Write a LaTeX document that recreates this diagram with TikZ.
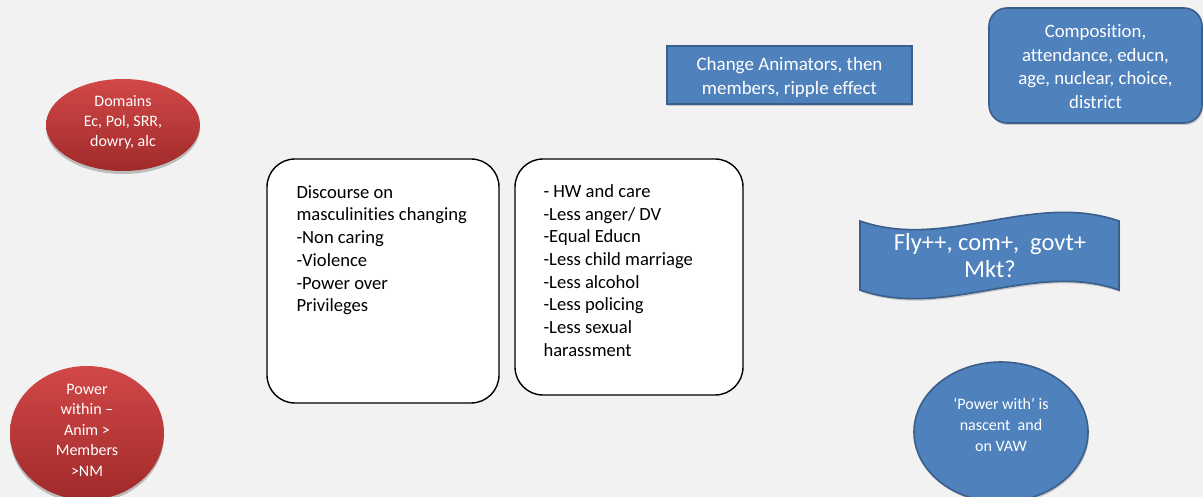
\documentclass[tikz,border=0pt]{standalone}
\usepackage{fontspec}
\setmainfont{Carlito}[Ligatures={NoCommon}]
\usetikzlibrary{shapes.geometric,shadows,calc}
\definecolor{pagebg}{HTML}{F2F2F2}
\definecolor{bluefill}{HTML}{4F81BD}
\definecolor{blueline}{HTML}{3A5F8B}
\definecolor{redtop}{HTML}{D24848}
\definecolor{redbot}{HTML}{A02A2A}

\begin{document}
\begin{tikzpicture}[x=1pt,y=-1pt,
  redoval/.style={ellipse, top color=redtop, bottom color=redbot, draw=none,
    inner sep=0pt,
    drop shadow={shadow xshift=0pt, shadow yshift=-3pt, opacity=0.22, fill=black}},
  blueshape/.style={fill=bluefill, draw=blueline, line width=1.6pt, inner sep=0pt,
    drop shadow={shadow xshift=1pt, shadow yshift=-2pt, opacity=0.18, fill=black}},
  whitebox/.style={rectangle, rounded corners=28pt, fill=white, draw=black,
    line width=1.4pt, inner sep=0pt},
  lighttext/.style={text=white, align=center, inner sep=0pt},
  listtext/.style={text=black, align=left, inner sep=0pt, anchor=north west,
    font=\fontsize{18.6}{22.7}\selectfont}
]
% page
\fill[pagebg] (0,0) rectangle (1203,497);
\useasboundingbox (0,0) rectangle (1203,497);

% red ovals on the left
\node[redoval, minimum width=154pt, minimum height=92pt] (domains) at (123,125) {};
\node[lighttext, font=\fontsize{16}{20}\selectfont] (domainsText)
  at ($(domains.center)+(0,-3)$) {Domains\\Ec, Pol, SRR,\\dowry, alc};

\node[redoval, minimum width=154pt, minimum height=134pt] (within) at (87,433) {};
\node[lighttext, font=\fontsize{16}{20.5}\selectfont] (withinText)
  at ($(within.center)+(0,-3)$) {Power\\within --\\Anim >\\Members\\>NM};

% two lists in white rounded boxes
\node[whitebox, minimum width=232pt, minimum height=244pt] (discourse) at (383,281) {};
\node[listtext] (discourseText) at ($(discourse.north west)+(30,27)$)
  {Discourse on\\masculinities changing\\-Non caring\\-Violence\\-Power over\\Privileges};

\node[whitebox, minimum width=228pt, minimum height=236pt] (changes) at (629,277) {};
\node[listtext] (changesText) at ($(changes.north west)+(29,26)$)
  {- HW and care\\-Less anger/ DV\\-Equal Educn\\-Less child marriage\\-Less alcohol\\-Less policing\\-Less sexual\\harassment};

% blue shapes on the right
\node[blueshape, rectangle, minimum width=245pt, minimum height=58pt] (ripple) at (789.5,75) {};
\node[lighttext, font=\fontsize{19}{24}\selectfont] (rippleText)
  at ($(ripple.center)+(0,2)$) {Change Animators, then\\members, ripple effect};

\node[blueshape, rectangle, rounded corners=18pt, minimum width=213pt, minimum height=115pt] (compo) at (1095.5,65.5) {};
\node[lighttext, font=\fontsize{18.8}{23.7}\selectfont] (compoText)
  at ($(compo.center)+(0,1)$) {Composition,\\attendance, educn,\\age, nuclear, choice,\\district};

% wave banner
\fill[black, opacity=0.18, xshift=1pt, yshift=-2pt]
  (860,221) .. controls (946,251) and (1032,191) .. (1119,221)
  -- (1119,290) .. controls (1032,260) and (946,320) .. (860,290) -- cycle;
\draw[fill=bluefill, draw=blueline, line width=1.6pt]
  (860,221) .. controls (946,251) and (1032,191) .. (1119,221)
  -- (1119,290) .. controls (1032,260) and (946,320) .. (860,290) -- cycle;
\node[lighttext, font=\fontsize{24.5}{27}\selectfont] (waveText) at (990,256)
  {Fly++, com+,\ \ govt+\\Mkt?};

\node[blueshape, ellipse, minimum width=174pt, minimum height=140pt] (powerwith) at (1001,432) {};
\node[lighttext, font=\fontsize{16}{21}\selectfont] (powerwithText)
  at ($(powerwith.center)+(0,-7)$) {‘Power with’ is\\nascent\ \ and\\on VAW};
\end{tikzpicture}
\end{document}
